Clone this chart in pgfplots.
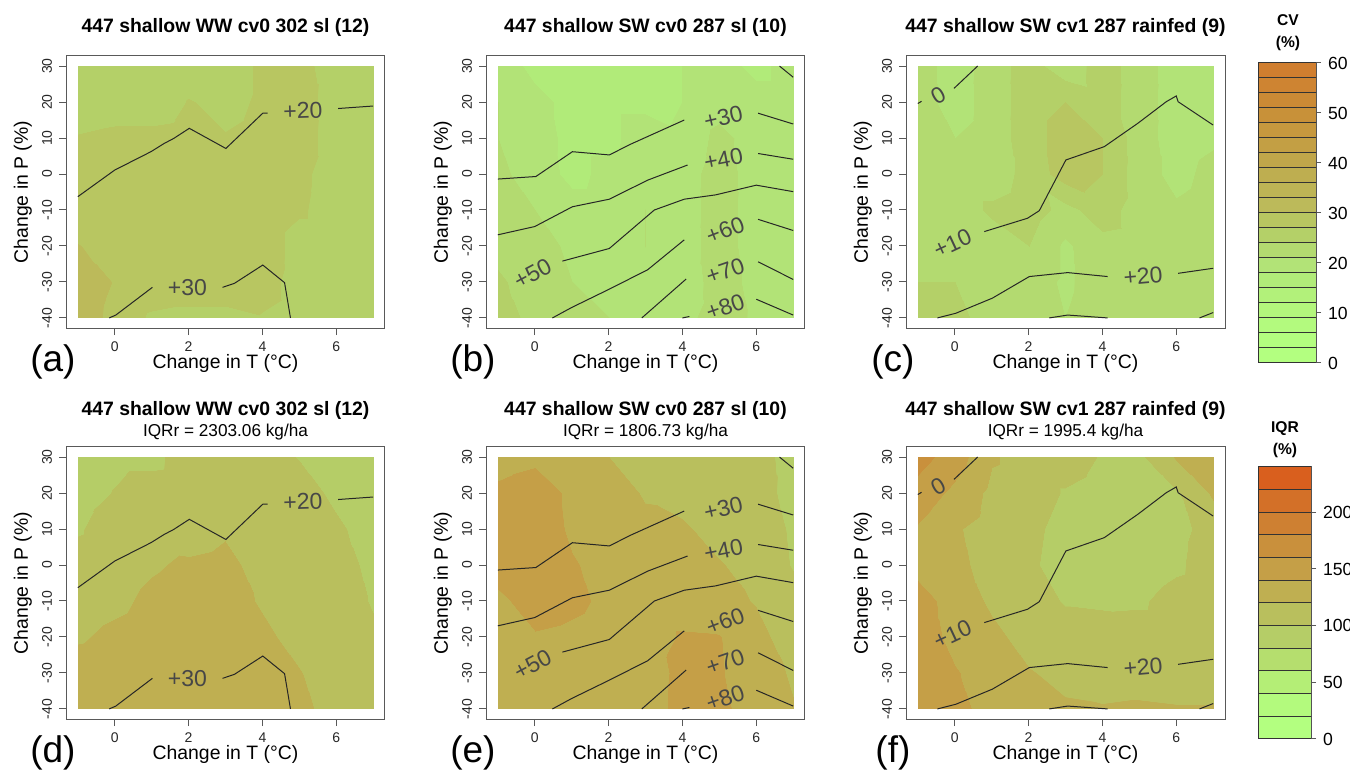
\documentclass[border=0pt]{standalone}
\usepackage{fontspec}
\setmainfont{Liberation Sans}
\usepackage{pgfplots}
\usepackage{pgfplotstable}
\pgfplotsset{compat=1.18}

\pgfplotsset{
  colormap={cvmap}{
    rgb255(0pt)=(179,255,128) rgb255(2.98pt)=(179,255,128)
    rgb255(3pt)=(179,253,127) rgb255(5.98pt)=(179,253,127)
    rgb255(6pt)=(179,250,126) rgb255(8.98pt)=(179,250,126)
    rgb255(9pt)=(179,246,124) rgb255(11.98pt)=(179,246,124)
    rgb255(12pt)=(178,241,122) rgb255(14.98pt)=(178,241,122)
    rgb255(15pt)=(177,235,121) rgb255(17.98pt)=(177,235,121)
    rgb255(18pt)=(178,227,119) rgb255(20.98pt)=(178,227,119)
    rgb255(21pt)=(179,218,112) rgb255(23.98pt)=(179,218,112)
    rgb255(24pt)=(180,208,104) rgb255(26.98pt)=(180,208,104)
    rgb255(27pt)=(184,198,97) rgb255(29.98pt)=(184,198,97)
    rgb255(30pt)=(188,186,90) rgb255(32.98pt)=(188,186,90)
    rgb255(33pt)=(189,180,85) rgb255(35.98pt)=(189,180,85)
    rgb255(36pt)=(190,174,80) rgb255(38.98pt)=(190,174,80)
    rgb255(39pt)=(192,166,74) rgb255(41.98pt)=(192,166,74)
    rgb255(42pt)=(195,159,68) rgb255(44.98pt)=(195,159,68)
    rgb255(45pt)=(198,152,62) rgb255(47.98pt)=(198,152,62)
    rgb255(48pt)=(200,145,57) rgb255(50.98pt)=(200,145,57)
    rgb255(51pt)=(203,138,53) rgb255(53.98pt)=(203,138,53)
    rgb255(54pt)=(206,132,50) rgb255(56.98pt)=(206,132,50)
    rgb255(57pt)=(208,126,47) rgb255(60pt)=(208,126,47)},
  colormap={iqrmap}{
    rgb255(0pt)=(179,255,128) rgb255(19.9pt)=(179,255,128)
    rgb255(20pt)=(179,250,125) rgb255(39.9pt)=(179,250,125)
    rgb255(40pt)=(180,238,118) rgb255(59.9pt)=(180,238,118)
    rgb255(60pt)=(181,222,110) rgb255(79.9pt)=(181,222,110)
    rgb255(80pt)=(181,205,103) rgb255(99.9pt)=(181,205,103)
    rgb255(100pt)=(185,191,93) rgb255(119.9pt)=(185,191,93)
    rgb255(120pt)=(191,175,81) rgb255(139.9pt)=(191,175,81)
    rgb255(140pt)=(197,159,71) rgb255(159.9pt)=(197,159,71)
    rgb255(160pt)=(201,144,60) rgb255(179.9pt)=(201,144,60)
    rgb255(180pt)=(206,128,50) rgb255(199.9pt)=(206,128,50)
    rgb255(200pt)=(211,112,40) rgb255(219.9pt)=(211,112,40)
    rgb255(220pt)=(217,95,30) rgb255(240pt)=(217,95,30)},
}

% CV (a)
\pgfplotstableread{
T P v
-1 -40 32
0 -40 29
1 -40 26.5
2 -40 26
3 -40 26
4 -40 26.8
5 -40 26
6 -40 26
7 -40 26
-1 -30 32
0 -30 29.8
1 -30 29
2 -30 29
3 -30 29
4 -30 28
5 -30 26
6 -30 26
7 -30 26
-1 -20 30.1
0 -20 29
1 -20 29
2 -20 29
3 -20 29
4 -20 28.5
5 -20 26
6 -20 26
7 -20 26
-1 -10 28.5
0 -10 28.5
1 -10 28.5
2 -10 28.5
3 -10 28.5
4 -10 28.5
5 -10 27.3
6 -10 26
7 -10 26
-1 0 28.5
0 0 28.5
1 0 28.5
2 0 28.5
3 0 28.5
4 0 28.5
5 0 27.5
6 0 26
7 0 26
-1 10 27.3
0 10 28
1 10 28
2 10 28.5
3 10 27.2
4 10 28
5 10 28
6 10 26
7 10 26
-1 20 24.5
0 20 25
1 20 25
2 20 27.2
3 20 26
4 20 27.5
5 20 28
6 20 26
7 20 25.5
-1 30 24.5
0 30 24.5
1 30 24.5
2 30 25
3 30 25.5
4 30 27.5
5 30 28
6 30 25.5
7 30 25.5
}\tabA

% CV (b)
\pgfplotstableread{
T P v
-1 -40 25.5
0 -40 23
1 -40 21.5
2 -40 21
3 -40 20.5
4 -40 20
5 -40 22.5
6 -40 20.5
7 -40 19.5
-1 -30 24.5
0 -30 22.5
1 -30 21
2 -30 20.5
3 -30 20.5
4 -30 19
5 -30 22.5
6 -30 20
7 -30 19.5
-1 -20 23
0 -20 22
1 -20 20.5
2 -20 20
3 -20 21
4 -20 19.5
5 -20 22.5
6 -20 19.5
7 -20 19.5
-1 -10 22
0 -10 21
1 -10 19.5
2 -10 19.5
3 -10 21
4 -10 19.5
5 -10 22.5
6 -10 19.5
7 -10 19.5
-1 0 21.5
0 0 20
1 0 17
2 0 19
3 0 20.5
4 0 19.5
5 0 22.5
6 0 19.5
7 0 19.5
-1 10 21
0 10 19.5
1 10 17
2 10 17
3 10 20
4 10 18.5
5 10 22
6 10 19.5
7 10 19.5
-1 20 21
0 20 19
1 20 17
2 20 17
3 20 17
4 20 18
5 20 19.5
6 20 19.5
7 20 19.5
-1 30 20
0 30 17
1 30 17
2 30 17
3 30 17
4 30 18
5 30 19.5
6 30 17
7 30 19.5
}\tabB

% CV (c)
\pgfplotstableread{
T P v
-1 -40 25
0 -40 25
1 -40 22.5
2 -40 22.5
3 -40 21
4 -40 22.5
5 -40 22.5
6 -40 22.5
7 -40 22.5
-1 -30 24
0 -30 24
1 -30 22.5
2 -30 22.5
3 -30 20.5
4 -30 22.5
5 -30 22.5
6 -30 22.5
7 -30 22.5
-1 -20 23
0 -20 22.5
1 -20 22.5
2 -20 24
3 -20 20.5
4 -20 23
5 -20 22.5
6 -20 22.5
7 -20 22.5
-1 -10 22.5
0 -10 22.5
1 -10 24.5
2 -10 25.5
3 -10 23
4 -10 25.5
5 -10 22.5
6 -10 21.5
7 -10 22.5
-1 0 22.5
0 0 22.5
1 0 22.5
2 0 25
3 0 28.5
4 0 27
5 0 22.5
6 0 20
7 0 22
-1 10 22.5
0 10 21
1 10 22.5
2 10 25.5
3 10 28.5
4 10 27
5 10 22.5
6 10 19.5
7 10 20.5
-1 20 22.5
0 20 19.5
1 20 22.5
2 20 25.5
3 20 27
4 20 25.5
5 20 22.5
6 20 19.5
7 20 20
-1 30 22.5
0 30 19.5
1 30 22.5
2 30 25.5
3 30 22
4 30 25.5
5 30 22.5
6 30 19.5
7 30 20
}\tabC

% IQR (d)
\pgfplotstableread{
T P v
-1 -40 130
0 -40 130
1 -40 130
2 -40 130
3 -40 130
4 -40 130
5 -40 124
6 -40 114
7 -40 106
-1 -30 128
0 -30 130
1 -30 130
2 -30 130
3 -30 130
4 -30 128
5 -30 121
6 -30 110
7 -30 104
-1 -20 118
0 -20 124
1 -20 128
2 -20 130
3 -20 130
4 -20 124
5 -20 114
6 -20 110
7 -20 104
-1 -10 112
0 -10 116
1 -10 124
2 -10 128
3 -10 128
4 -10 118
5 -10 112
6 -10 112
7 -10 98
-1 0 108
0 0 112
1 0 118
2 0 123
3 0 126
4 0 112
5 0 110
6 0 110
7 0 94
-1 10 98
0 10 110
1 10 112
2 10 110
3 10 117
4 10 112
5 10 110
6 10 104
7 10 90
-1 20 92
0 20 101
1 20 108
2 20 110
3 20 110
4 20 110
5 20 110
6 20 95
7 20 90
-1 30 90
0 30 95
1 30 95
2 30 110
3 30 110
4 30 110
5 30 99
6 30 90
7 30 90
}\tabD

% IQR (e)
\pgfplotstableread{
T P v
-1 -40 130
0 -40 130
1 -40 130
2 -40 130
3 -40 125
4 -40 150
5 -40 145
6 -40 130
7 -40 121
-1 -30 130
0 -30 130
1 -30 130
2 -30 130
3 -30 125
4 -30 148
5 -30 142
6 -30 128
7 -30 118
-1 -20 130
0 -20 138
1 -20 135
2 -20 130
3 -20 130
4 -20 142
5 -20 141
6 -20 125
7 -20 112
-1 -10 135
0 -10 150
1 -10 145
2 -10 135
3 -10 130
4 -10 130
5 -10 125
6 -10 119
7 -10 105
-1 0 150
0 0 155
1 0 142
2 0 132
3 0 130
4 0 125
5 0 122
6 0 110
7 0 99
-1 10 150
0 10 155
1 10 136
2 10 130
3 10 125
4 10 124
5 10 110
6 10 108
7 10 98
-1 20 145
0 20 152
1 20 135
2 20 130
3 20 118
4 20 110
5 20 110
6 20 105
7 20 96
-1 30 130
0 30 135
1 30 130
2 30 120
3 30 112
4 30 110
5 30 110
6 30 105
7 30 95
}\tabE

% IQR (f)
\pgfplotstableread{
T P v
-1 -40 160
0 -40 148
1 -40 130
2 -40 125
3 -40 122
4 -40 121
5 -40 122
6 -40 121
7 -40 121
-1 -30 158
0 -30 142
1 -30 128
2 -30 121
3 -30 116
4 -30 114
5 -30 114
6 -30 113
7 -30 114
-1 -20 155
0 -20 132
1 -20 124
2 -20 114
3 -20 112
4 -20 112
5 -20 110
6 -20 110
7 -20 112
-1 -10 150
0 -10 130
1 -10 117
2 -10 112
3 -10 98
4 -10 96
5 -10 97
6 -10 108
7 -10 112
-1 0 132
0 0 124
1 0 114
2 0 104
3 0 90
4 0 88
5 0 88
6 0 96
7 0 112
-1 10 138
0 10 122
1 10 112
2 10 106
3 10 92
4 10 88
5 10 88
6 10 94
7 10 108
-1 20 152
0 20 135
1 20 115
2 20 112
3 20 98
4 20 90
5 20 90
6 20 98
7 20 123
-1 30 168
0 30 150
1 30 122
2 30 112
3 30 112
4 30 98
5 30 96
6 30 122
7 30 128
}\tabF

\pgfplotsset{
  panel/.style={
    scale only axis, width=159.5pt, height=136pt, anchor=north west,
    xmin=-1.32, xmax=7.32, ymin=-42.8, ymax=32.8,
    xtick={0,2,4,6}, ytick={-40,-30,-20,-10,0,10,20,30},
    xtick pos=bottom, ytick pos=left, tick align=outside,
    major tick length=3.5pt,
    axis line style={black!65, line width=0.5pt},
    every tick/.style={black!65, line width=0.5pt},
    /pgf/number format/assume math mode=true,
    ticklabel style={font=\fontsize{7}{8}\selectfont, text=black!85},
    yticklabel style={rotate=90, anchor=south},
    xlabel={Change in T (°C)}, ylabel={Change in P (\%)},
    every axis x label/.style={at={(axis description cs:0.5,-0.132)}, anchor=center, font=\fontsize{9.7}{11}\selectfont},
    every axis y label/.style={at={(axis description cs:-0.135,0.5)}, anchor=center, rotate=90, font=\fontsize{9.7}{11}\selectfont},
    every axis title/.style={at={(axis description cs:0.5,1.103)}, anchor=center, font=\bfseries\fontsize{9.7}{11}\selectfont},
    clip=false,
  },
  cvpanel/.style={panel, colormap name=cvmap, point meta min=0, point meta max=60},
  iqrpanel/.style={panel, colormap name=iqrmap, point meta min=0, point meta max=240,
     every axis title/.style={at={(axis description cs:0.5,1.136)}, anchor=center, font=\bfseries\fontsize{9.7}{11}\selectfont}},
  cl/.style={black!85, line width=0.5pt},
  fillplot/.style={surf, shader=interp, mesh/cols=9, point meta=explicit},
  cbar/.style={anchor=north west, scale only axis, xmin=0, xmax=1, xtick=\empty,
    ytick pos=right, yticklabel pos=right, tick align=outside, major tick length=2.5pt,
    axis line style={black!65, line width=0.5pt}, every tick/.style={black!65, line width=0.5pt},
    /pgf/number format/assume math mode=true,
    yticklabel style={font=\fontsize{8.8}{10}\selectfont, anchor=west}},
}
\tikzset{clab/.style={font=\fontsize{11.5}{12}\selectfont, text=black!72, inner sep=0pt},
  plab/.style={font=\fontsize{18.5}{20}\selectfont},
  sub/.style={font=\fontsize{8.6}{10}\selectfont}}

\newcommand{\linesA}{%
  \addplot[cl] coordinates {(-1,-6.3) (0,1.1) (0.98,6.2) (1.34,8.5) (1.6,9.9) (2.02,12.7) (3.01,7.1) (4.01,16.9) (4.14,16.9)};
  \addplot[cl] coordinates {(6.05,18.2) (7,18.9)};
  \addplot[cl] coordinates {(-0.15,-40) (0.03,-39.2) (1.02,-31.5)};
  \addplot[cl] coordinates {(2.92,-31.5) (3.24,-30.4) (4.01,-25.3) (4.6,-30.2) (4.76,-40)};
  \node[clab, rotate=2] at (axis cs:5.095,17.6) {+20};
  \node[clab] at (axis cs:1.97,-31.5) {+30};
}
\newcommand{\linesB}{%
  \addplot[cl] coordinates {(-1,-1.4) (0.03,-0.7) (1.02,6.2) (2.02,5.3) (2.6,8.3) (4.05,15)};
  \addplot[cl] coordinates {(6.05,16.9) (7,13.9)};
  \addplot[cl] coordinates {(-1,-16.9) (0,-14.6) (1.02,-9.1) (2.02,-7.0) (3.06,-1.7) (4.14,2.5)};
  \addplot[cl] coordinates {(6.05,5.7) (7,4.1)};
  \addplot[cl] coordinates {(0.75,-24.2) (2.02,-20.7) (3.24,-10) (4.05,-7.0) (4.9,-5.8) (6.0,-3.1) (7,-4.9)};
  \addplot[cl] coordinates {(0.48,-40) (1.0,-37.1) (2.02,-32) (3.06,-26.6) (4.05,-18.3)};
  \addplot[cl] coordinates {(6.05,-12.6) (7,-15.7)};
  \addplot[cl] coordinates {(2.9,-40) (4.1,-29.2)};
  \addplot[cl] coordinates {(6.05,-24.4) (7,-29.3)};
  \addplot[cl] coordinates {(4.0,-40) (4.19,-39.6)};
  \addplot[cl] coordinates {(6.0,-34.8) (7,-39.2)};
  \addplot[cl] coordinates {(6.63,30) (7,26.9)};
  \node[clab, rotate=13] at (axis cs:5.11,15.7) {+30};
  \node[clab, rotate=11] at (axis cs:5.11,4.1) {+40};
  \node[clab, rotate=28] at (axis cs:-0.06,-27.6) {+50};
  \node[clab, rotate=21] at (axis cs:5.16,-15.6) {+60};
  \node[clab, rotate=19] at (axis cs:5.16,-26.9) {+70};
  \node[clab, rotate=19] at (axis cs:5.16,-36.9) {+80};
}
\newcommand{\linesC}{%
  \addplot[cl] coordinates {(-1,19.6) (-0.9,20.2)};
  \addplot[cl] coordinates {(-0.02,23.8) (0.62,30)};
  \addplot[cl] coordinates {(0.8,-16) (1.97,-12.3) (2.29,-10.2) (3.01,3.9) (4.05,7.6) (4.96,14.1) (5.73,20.1) (6.0,21.7) (6.05,20.1) (7,13.6)};
  \addplot[cl] coordinates {(-0.47,-40) (0.03,-38.7) (1.02,-34.5) (2.02,-28.5) (3.06,-27.4) (4.14,-28.5)};
  \addplot[cl] coordinates {(6.05,-27.6) (7,-26.2)};
  \addplot[cl] coordinates {(2.56,-40) (3.06,-39.2) (4.14,-40)};
  \addplot[cl] coordinates {(6.63,-40) (7,-38.5)};
  \node[clab, rotate=30] at (axis cs:-0.45,21.7) {0};
  \node[clab, rotate=25] at (axis cs:-0.06,-19.3) {+10};
  \node[clab, rotate=5] at (axis cs:5.1,-28.3) {+20};
}

\begin{document}
\begin{tikzpicture}
\path[use as bounding box] (0,0) rectangle (675pt,-387pt);

% ---------- top row (CV) ----------
\begin{axis}[cvpanel, at={(33pt,-28pt)}, title={447 shallow WW cv0 302 sl (12)}]
  \addplot[fillplot] table[x=T, y=P, meta=v] {\tabA};
  \linesA
  \node[plab] at (axis description cs:-0.041,-0.125) {(a)};
\end{axis}
\begin{axis}[cvpanel, at={(243pt,-28pt)}, title={447 shallow SW cv0 287 sl (10)}]
  \addplot[fillplot] table[x=T, y=P, meta=v] {\tabB};
  \linesB
  \node[plab] at (axis description cs:-0.041,-0.125) {(b)};
\end{axis}
\begin{axis}[cvpanel, at={(453pt,-28pt)}, title={447 shallow SW cv1 287 rainfed (9)}]
  \addplot[fillplot] table[x=T, y=P, meta=v] {\tabC};
  \linesC
  \node[plab] at (axis description cs:-0.041,-0.125) {(c)};
\end{axis}

% ---------- bottom row (IQR) ----------
\begin{axis}[iqrpanel, at={(33pt,-223.5pt)}, title={447 shallow WW cv0 302 sl (12)}]
  \addplot[fillplot] table[x=T, y=P, meta=v] {\tabD};
  \linesA
  \node[sub] at (axis description cs:0.5,1.055) {IQRr = 2303.06 kg/ha};
  \node[plab] at (axis description cs:-0.041,-0.125) {(d)};
\end{axis}
\begin{axis}[iqrpanel, at={(243pt,-223.5pt)}, title={447 shallow SW cv0 287 sl (10)}]
  \addplot[fillplot] table[x=T, y=P, meta=v] {\tabE};
  \linesB
  \node[sub] at (axis description cs:0.5,1.055) {IQRr = 1806.73 kg/ha};
  \node[plab] at (axis description cs:-0.041,-0.125) {(e)};
\end{axis}
\begin{axis}[iqrpanel, at={(453pt,-223.5pt)}, title={447 shallow SW cv1 287 rainfed (9)}]
  \addplot[fillplot] table[x=T, y=P, meta=v] {\tabF};
  \linesC
  \node[sub] at (axis description cs:0.5,1.055) {IQRr = 1995.4 kg/ha};
  \node[plab] at (axis description cs:-0.041,-0.125) {(f)};
\end{axis}

% ---------- colour keys ----------
\begin{axis}[cbar, at={(629pt,-31.5pt)}, width=29pt, height=150pt, ymin=0, ymax=60,
  ytick={0,10,20,30,40,50,60}, colormap name=cvmap, point meta min=0, point meta max=60]
  \addplot[surf, shader=faceted, faceted color=black!80, line width=0.5pt, mesh/cols=2, point meta=y] coordinates {
   (0,0) (1,0) (0,3) (1,3) (0,6) (1,6) (0,9) (1,9) (0,12) (1,12) (0,15) (1,15) (0,18) (1,18)
   (0,21) (1,21) (0,24) (1,24) (0,27) (1,27) (0,30) (1,30) (0,33) (1,33) (0,36) (1,36)
   (0,39) (1,39) (0,42) (1,42) (0,45) (1,45) (0,48) (1,48) (0,51) (1,51) (0,54) (1,54)
   (0,57) (1,57) (0,60) (1,60)};
\end{axis}
\node[font=\bfseries\fontsize{7.8}{9}\selectfont] at (644pt,-10pt) {CV};
\node[font=\bfseries\fontsize{7.8}{9}\selectfont] at (644pt,-21.5pt) {(\%)};

\begin{axis}[cbar, at={(629pt,-233.5pt)}, width=26.5pt, height=136pt, ymin=0, ymax=240,
  ytick={0,50,100,150,200}, colormap name=iqrmap, point meta min=0, point meta max=240]
  \addplot[surf, shader=faceted, faceted color=black!80, line width=0.5pt, mesh/cols=2, point meta=y] coordinates {
   (0,0) (1,0) (0,20) (1,20) (0,40) (1,40) (0,60) (1,60) (0,80) (1,80) (0,100) (1,100)
   (0,120) (1,120) (0,140) (1,140) (0,160) (1,160) (0,180) (1,180) (0,200) (1,200)
   (0,220) (1,220) (0,240) (1,240)};
\end{axis}
\node[font=\bfseries\fontsize{7.8}{9}\selectfont] at (642.5pt,-214.5pt) {IQR};
\node[font=\bfseries\fontsize{7.8}{9}\selectfont] at (642.5pt,-225pt) {(\%)};
\end{tikzpicture}
\end{document}
